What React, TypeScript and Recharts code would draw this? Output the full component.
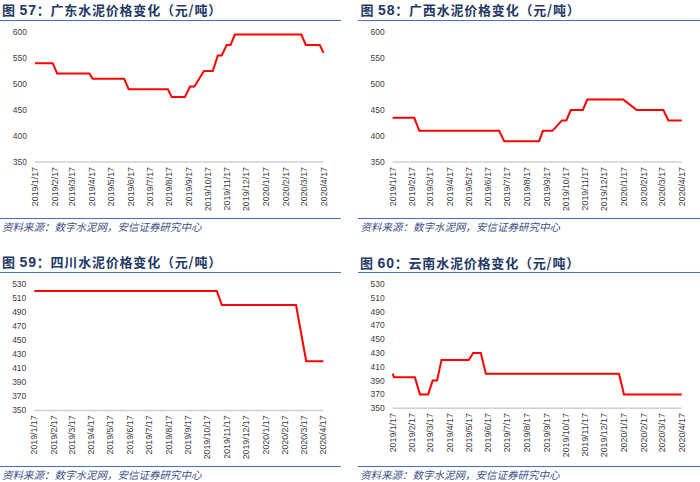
import React from 'react';
import { LineChart, Line, XAxis, YAxis } from 'recharts';

// days counted from 2019/1/17
const tickDays = [0, 31, 59, 90, 120, 151, 181, 212, 243, 273, 304, 334, 365, 396, 425, 456];
const tickLabels = [
  '2019/1/17', '2019/2/17', '2019/3/17', '2019/4/17', '2019/5/17', '2019/6/17', '2019/7/17', '2019/8/17',
  '2019/9/17', '2019/10/17', '2019/11/17', '2019/12/17', '2020/1/17', '2020/2/17', '2020/3/17', '2020/4/17',
];

const gdDays = [0, 28, 35, 86, 91, 141, 148, 210, 216, 237, 245, 252, 267, 281, 289, 295, 303, 309, 316, 421, 428, 450, 456];
const gdPrices = [540, 540, 520, 520, 510, 510, 490, 490, 475, 475, 495, 495, 525, 525, 555, 555, 575, 575, 595, 595, 575, 575, 560];

const gxDays = [0, 34, 42, 168, 176, 231, 237, 252, 267, 274, 281, 300, 307, 364, 385, 427, 435, 456];
const gxPrices = [435, 435, 410, 410, 390, 390, 410, 410, 430, 430, 450, 450, 470, 470, 450, 450, 430, 430];

const scDays = [0, 288, 296, 413, 429, 456];
const scPrices = [520, 520, 500, 500, 420, 420];

const ynDays = [0, 2, 35, 43, 56, 63, 70, 77, 120, 127, 139, 147, 357, 365, 456];
const ynPrices = [400, 395, 395, 370, 370, 390, 390, 420, 420, 430, 430, 400, 400, 370, 370];

const ticks600 = [350, 400, 450, 500, 550, 600];
const ticks530 = [350, 370, 390, 410, 430, 450, 470, 490, 510, 530];

const SOURCE = '资料来源：数字水泥网，安信证券研究中心';
const NAVY = '#1F3864';
const RULE = '#4472C4';
const CJK = '"Noto Sans CJK SC", sans-serif';
const LATIN = '"Liberation Sans", Arial, sans-serif';

const DateTick = (props: any) => {
  const { x, y, payload } = props;
  const i = tickDays.indexOf(payload.value);
  return (
    <g transform={`translate(${x},${y + 5})`}>
      <text textAnchor="end" transform="rotate(-90)" dy="0.34em" fontSize={8.8} fill="#404040" fontFamily={LATIN}>
        {tickLabels[i]}
      </text>
    </g>
  );
};

type PanelProps = {
  num: string;
  name: string;
  days: number[];
  prices: number[];
  yTicks: number[];
  px: number; // panel left
  titleX: number;
  titleY: number;
  ruleX: number;
  ruleY: number;
  plotL: number;
  plotR: number;
  plotT: number;
  plotB: number;
  footY: number;
};

function Panel(p: PanelProps) {
  const data = p.days.map((d, i) => ({ day: d, price: p.prices[i] }));
  const chartTop = p.plotT - 10;
  const chartH = p.plotB - chartTop + 50;
  const ruleW = p.px ? 700 - p.ruleX : 341;
  return (
    <>
      <div
        style={{
          position: 'absolute', left: p.titleX, top: p.titleY - 9, height: 18, lineHeight: '18px',
          whiteSpace: 'nowrap', color: NAVY, fontFamily: CJK, fontWeight: 700, fontSize: 13, letterSpacing: 0.8,
        }}
      >
        图 <span style={{ fontFamily: LATIN, fontSize: 14 }}>{p.num}</span>：{p.name}
      </div>
      <div style={{ position: 'absolute', left: p.ruleX, top: p.ruleY, width: ruleW, borderTop: `1.5px solid ${RULE}` }} />
      <div style={{ position: 'absolute', left: p.px, top: chartTop }}>
        <LineChart
          width={350}
          height={chartH}
          data={data}
          margin={{ top: p.plotT - chartTop, right: p.px + 350 - p.plotR, bottom: 0, left: 0 }}
        >
          <XAxis
            dataKey="day"
            type="number"
            domain={[0, 456]}
            ticks={tickDays}
            interval={0}
            height={chartH - (p.plotB - chartTop)}
            tickLine={false}
            tickSize={0}
            tickMargin={0}
            axisLine={{ stroke: '#D0D0D0', strokeWidth: 1.5 }}
            tick={<DateTick />}
          />
          <YAxis
            type="number"
            domain={[p.yTicks[0], p.yTicks[p.yTicks.length - 1]]}
            ticks={p.yTicks}
            interval={0}
            width={p.plotL - p.px}
            axisLine={false}
            tickLine={false}
            tickSize={0}
            tickMargin={8}
            tick={{ fontSize: 8.5, fill: '#404040', fontFamily: LATIN }}
          />
          <Line
            type="linear"
            dataKey="price"
            stroke="#FF0000"
            strokeWidth={2}
            dot={false}
            isAnimationActive={false}
          />
        </LineChart>
      </div>
      <div style={{ position: 'absolute', left: p.ruleX, top: p.footY - 9, width: ruleW, borderTop: `1.5px solid ${RULE}` }} />
      <div
        style={{
          position: 'absolute', left: p.titleX, top: p.footY - 7, height: 14, lineHeight: '14px',
          whiteSpace: 'nowrap', color: '#3C4F84', fontFamily: CJK, fontStyle: 'italic', fontSize: 10.5,
        }}
      >
        {SOURCE}
      </div>
    </>
  );
}

export default function App() {
  return (
    <div style={{ position: 'absolute', left: 0, top: 0, width: 700, height: 482, background: '#fff', overflow: 'hidden' }}>
      <Panel
        num="57" name="广东水泥价格变化（元/吨）" days={gdDays} prices={gdPrices} yTicks={ticks600}
        px={0} titleX={2} titleY={9.5} ruleX={0} ruleY={20}
        plotL={35} plotR={323.5} plotT={31.7} plotB={161.7} footY={226.5}
      />
      <Panel
        num="58" name="广西水泥价格变化（元/吨）" days={gxDays} prices={gxPrices} yTicks={ticks600}
        px={350} titleX={360.5} titleY={9.5} ruleX={358} ruleY={20}
        plotL={392.7} plotR={681.7} plotT={31.7} plotB={161.7} footY={226.5}
      />
      <Panel
        num="59" name="四川水泥价格变化（元/吨）" days={scDays} prices={scPrices} yTicks={ticks530}
        px={0} titleX={2} titleY={261.7} ruleX={0} ruleY={271.5}
        plotL={34.3} plotR={323.3} plotT={284.3} plotB={410.7} footY={474.5}
      />
      <Panel
        num="60" name="云南水泥价格变化（元/吨）" days={ynDays} prices={ynPrices} yTicks={ticks530}
        px={350} titleX={360} titleY={262.5} ruleX={358} ruleY={271.5}
        plotL={392.7} plotR={681.7} plotT={284.3} plotB={408.5} footY={474.5}
      />
    </div>
  );
}
